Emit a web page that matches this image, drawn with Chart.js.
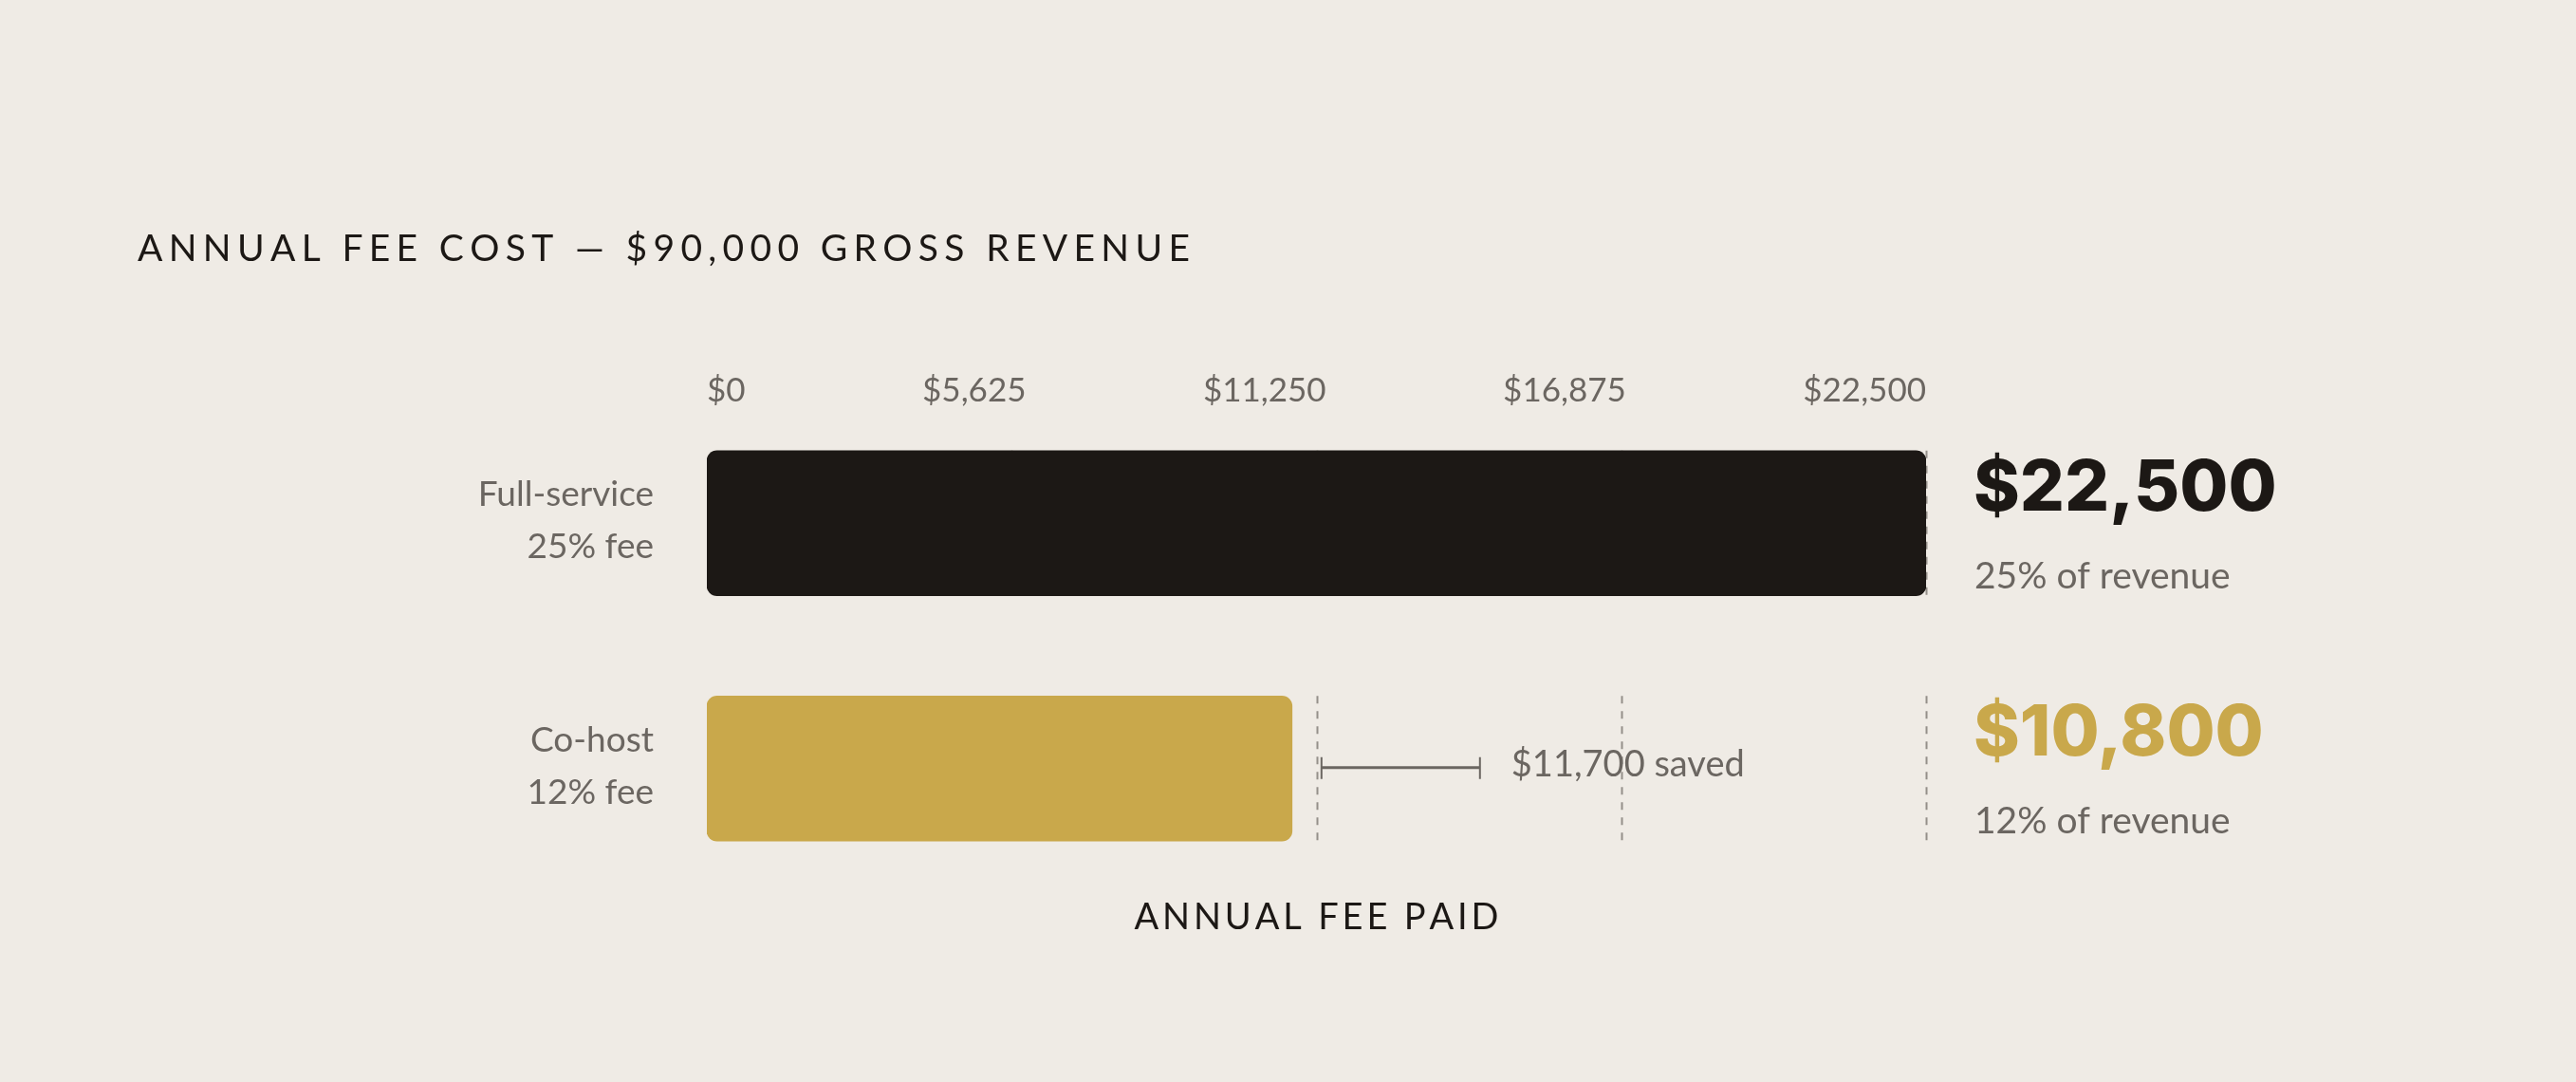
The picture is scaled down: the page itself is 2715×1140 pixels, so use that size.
<!DOCTYPE html>
<html>
<head>
<meta charset="utf-8">
<script src="https://cdn.jsdelivr.net/npm/chart.js@4"></script>
<style>
  html, body { margin: 0; padding: 0; background: #efebe5; }
  canvas { display: block; }
</style>
</head>
<body>
<canvas id="c" width="2715" height="1140" style="width:2715px;height:1140px"></canvas>
<script>
// ---- data ----
const chartTitle = 'ANNUAL FEE COST \u2014 $90,000 GROSS REVENUE';
const axisTitle = 'ANNUAL FEE PAID';
const categories = ['Full-service', 'Co-host'];
const categorySubs = ['25% fee', '12% fee'];
const fees = [22500, 10800];
const valueLabels = ['$22,500', '$10,800'];
const shareLabels = ['25% of revenue', '12% of revenue'];
const tickValues = [0, 5625, 11250, 16875, 22500];
const tickLabels = ['$0', '$5,625', '$11,250', '$16,875', '$22,500'];
const savedLabel = '$11,700 saved';

const C = {
  bg: '#efebe5', ink: '#1c1815', gold: '#c9a84b', grey: '#6b6661', grid: '#948f89'
};
const FONT = 'Lato, "Noto Sans", sans-serif';
const BOLD_FONT = 'Inter, Lato, sans-serif';

function spacedText(ctx, text, x, y, targetWidth, align) {
  const chars = Array.from(text);
  const widths = chars.map(ch => ctx.measureText(ch).width);
  const natural = widths.reduce((a, b) => a + b, 0);
  const sp = (targetWidth - natural) / (chars.length - 1);
  let cx = align === 'center' ? x - targetWidth / 2 : x;
  ctx.textAlign = 'left';
  chars.forEach((ch, i) => { ctx.fillText(ch, cx, y); cx += widths[i] + sp; });
}

const overlay = {
  id: 'overlay',
  beforeDatasetsDraw(chart) {
    const ctx = chart.ctx, xs = chart.scales.x;
    const meta = chart.getDatasetMeta(0);
    ctx.save();
    ctx.strokeStyle = C.grid;
    ctx.lineWidth = 2;
    ctx.setLineDash([8, 8]);
    meta.data.forEach(el => {
      const top = el.y - el.height / 2, bot = el.y + el.height / 2;
      tickValues.slice(1).forEach(v => {
        const px = Math.round(xs.getPixelForValue(v)) + 0.5;
        ctx.beginPath(); ctx.moveTo(px, top); ctx.lineTo(px, bot); ctx.stroke();
      });
    });
    ctx.restore();
  },
  afterDraw(chart) {
    const ctx = chart.ctx, xs = chart.scales.x, area = chart.chartArea;
    const meta = chart.getDatasetMeta(0);
    ctx.save();
    ctx.textBaseline = 'alphabetic';

    // title
    ctx.fillStyle = C.ink;
    ctx.font = `400 39px ${FONT}`;
    spacedText(ctx, chartTitle, 145, 275, 1109, 'left');

    // tick labels (space-between across the axis)
    ctx.font = `400 35px ${FONT}`;
    ctx.fillStyle = C.grey;
    const left = xs.getPixelForValue(tickValues[0]);
    const right = xs.getPixelForValue(tickValues[tickValues.length - 1]);
    const tw = tickLabels.map(t => ctx.measureText(t).width);
    const gap = (right - left - tw.reduce((a, b) => a + b, 0)) / (tickLabels.length - 1);
    let cx = left;
    ctx.textAlign = 'left';
    tickLabels.forEach((t, i) => { ctx.fillText(t, cx, area.top + 1); cx += tw[i] + gap; });

    // category labels and value labels
    meta.data.forEach((el, i) => {
      const top = el.y - el.height / 2;
      ctx.font = `400 37px ${FONT}`;
      ctx.fillStyle = C.grey;
      ctx.textAlign = 'right';
      ctx.fillText(categories[i], left - 56, el.y - 18);
      ctx.fillText(categorySubs[i], left - 56, el.y + 37);

      ctx.textAlign = 'left';
      ctx.font = `800 74px ${BOLD_FONT}`;
      ctx.fillStyle = i === 0 ? C.ink : C.gold;
      ctx.fillText(valueLabels[i], right + 50, top + 63);
      ctx.font = `400 39px ${FONT}`;
      ctx.fillStyle = C.grey;
      ctx.fillText(shareLabels[i], right + 51, top + 145);
    });

    // savings bracket beside the co-host bar
    const el = meta.data[1];
    const x0 = el.x + 31, x1 = x0 + 167, y = el.y - 1;
    ctx.strokeStyle = C.grey;
    ctx.setLineDash([]);
    ctx.lineWidth = 3;
    ctx.beginPath(); ctx.moveTo(x0, y); ctx.lineTo(x1, y); ctx.stroke();
    ctx.lineWidth = 2;
    ctx.beginPath();
    ctx.moveTo(x0, y - 11); ctx.lineTo(x0, y + 12);
    ctx.moveTo(x1, y - 11); ctx.lineTo(x1, y + 12);
    ctx.stroke();
    ctx.font = `400 38px ${FONT}`;
    ctx.fillStyle = C.grey;
    ctx.textAlign = 'left';
    ctx.fillText(savedLabel, x1 + 33, y + 9);

    // axis title
    ctx.fillStyle = C.ink;
    ctx.font = `400 38px ${FONT}`;
    spacedText(ctx, axisTitle, (left + right) / 2, area.bottom + 40, 384, 'center');
    ctx.restore();
  }
};

new Chart(document.getElementById('c'), {
  type: 'bar',
  data: {
    labels: categories,
    datasets: [{
      data: fees,
      backgroundColor: [C.ink, C.gold],
      borderRadius: 11,
      borderSkipped: false,
      barThickness: 153
    }]
  },
  options: {
    indexAxis: 'y',
    responsive: false,
    devicePixelRatio: 1,
    animation: false,
    layout: { padding: { left: 745, right: 685, top: 422, bottom: 201 } },
    plugins: { legend: { display: false }, tooltip: { enabled: false }, title: { display: false } },
    scales: {
      x: { type: 'linear', min: 0, max: 22500, display: false },
      y: { type: 'category', display: false, offset: true }
    }
  },
  plugins: [overlay]
});
</script>
</body>
</html>
